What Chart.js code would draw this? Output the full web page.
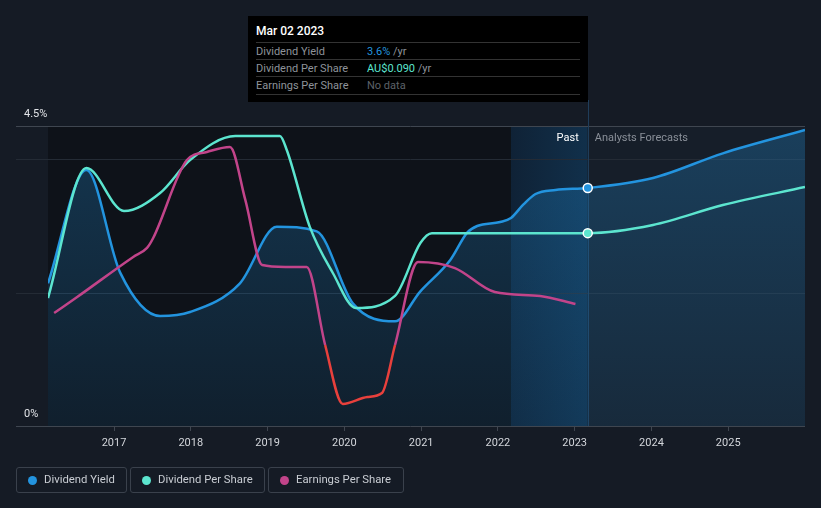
<!DOCTYPE html>
<html>
<head>
<meta charset="utf-8">
<script src="https://cdn.jsdelivr.net/npm/chart.js@4.4.1/dist/chart.umd.min.js"></script>
<style>
  body { margin: 0; background: #151b25; font-family: Roboto, sans-serif; }
  #wrap { position: relative; width: 821px; height: 508px; overflow: hidden; }
  #tip { position: absolute; left: 248px; top: 16px; width: 340px; height: 86px; background: #000; }
  #tip .title { position: absolute; left: 8px; top: 8px; color: #fff; font-size: 12px; font-weight: 500; }
  #tip .row { position: absolute; left: 8px; width: 324px; height: 17px; line-height: 17px; border-top: 1px solid #333; font-size: 11px; color: #8e939a; }
  #tip .row.last { border-bottom: 1px solid #333; }
  #tip .row span { position: absolute; left: 111px; }
  .legend { position: absolute; top: 467px; height: 24px; border: 1px solid #3a414c; border-radius: 3px; font-size: 11.3px; color: #c9cdd3; line-height: 24px; box-sizing: content-box; }
  .legend i { position: absolute; left: 11px; top: 8px; width: 9px; height: 9px; border-radius: 50%; }
  .legend b { position: absolute; left: 27px; font-weight: 400; white-space: nowrap; }
</style>
</head>
<body>
<div id="wrap">
  <canvas id="chart" width="821" height="508"></canvas>
  <div id="tip">
    <div class="title">Mar 02 2023</div>
    <div class="row" style="top:26px">Dividend Yield<span><em style="font-style:normal;color:#2394df">3.6%</em> /yr</span></div>
    <div class="row" style="top:43px">Dividend Per Share<span><em style="font-style:normal;color:#5ce5cf">AU$0.090</em> /yr</span></div>
    <div class="row last" style="top:60px">Earnings Per Share<span style="color:#5d6269">No data</span></div>
  </div>
  <div class="legend" style="left:16px;width:109px"><i style="background:#2394df"></i><b>Dividend Yield</b></div>
  <div class="legend" style="left:130px;width:133px"><i style="background:#5ce5cf"></i><b>Dividend Per Share</b></div>
  <div class="legend" style="left:268px;width:134px"><i style="background:#c2448a"></i><b>Earnings Per Share</b></div>
</div>
<script>
// values (x in decimal years)
const yieldX = [2016.14, 2016.64, 2017.08, 2017.60, 2017.99, 2018.64, 2019.12, 2019.64, 2020.11, 2020.66, 2020.99, 2021.38, 2021.60, 2021.73, 2022.03, 2022.17, 2022.33, 2022.49, 2022.75, 2023.17, 2024.02, 2024.93, 2026.0];
const yieldY = [2.14, 3.84, 2.30, 1.65, 1.71, 2.14, 2.99, 2.92, 1.84, 1.57, 2.02, 2.49, 2.90, 3.00, 3.06, 3.12, 3.32, 3.48, 3.54, 3.57, 3.72, 4.09, 4.44];

const dpsX = [2016.14, 2016.64, 2017.13, 2017.60, 2017.99, 2018.58, 2019.16, 2019.25, 2019.55, 2019.85, 2020.15, 2020.66, 2020.99, 2021.14, 2023.17, 2024.02, 2024.93, 2026.0];
const dpsY = [0.0597, 0.1204, 0.1003, 0.1087, 0.1241, 0.1353, 0.1353, 0.1288, 0.0929, 0.0714, 0.0551, 0.0607, 0.0854, 0.090, 0.090, 0.0938, 0.1031, 0.1115];

const epsX = [2016.22, 2016.52, 2017.25, 2017.43, 2017.51, 2017.95, 2018.21, 2018.51, 2018.71, 2018.93, 2019.23, 2019.51, 2019.75, 2019.98, 2020.30, 2020.49, 2020.66, 2020.96, 2021.44, 2021.96, 2022.55, 2023.01];
const epsY = [0.0213, 0.032, 0.0587, 0.0647, 0.0713, 0.1233, 0.1287, 0.132, 0.0967, 0.0533, 0.052, 0.052, 0, -0.0393, -0.0347, -0.032, 0, 0.0553, 0.0513, 0.0353, 0.0327, 0.0273];

const yearTicks = [2017, 2018, 2019, 2020, 2021, 2022, 2023, 2024, 2025];
const yieldTicks = [0, 4.5];
const yieldGrid = [2, 4, 4.5];
const nowX = 2023.17;
const bandStart = 2022.17;

const BLUE = "#2394df", TEAL = "#5ce5cf", PINK = "#c2448a", RED = "#e8403c";

function pts(xs, ys) { return xs.map((x, i) => ({ x: x, y: ys[i] })); }

const backdrop = {
  id: "backdrop",
  beforeDatasetsDraw(chart) {
    const { ctx, chartArea: a, scales } = chart;
    const x = scales.x, y = scales.y;
    const xb = x.getPixelForValue(bandStart), xn = x.getPixelForValue(nowX);
    ctx.save();
    ctx.fillStyle = "#0e1219";
    ctx.fillRect(a.left, a.top, xb - a.left, a.bottom - a.top);
    let g = ctx.createLinearGradient(xb, 0, xn, 0);
    g.addColorStop(0, "#0f2236");
    g.addColorStop(1, "#11304b");
    ctx.fillStyle = g;
    ctx.fillRect(xb, a.top, xn - xb, a.bottom - a.top);
    ctx.fillStyle = "#161e29";
    ctx.fillRect(xn, a.top, a.right - xn, a.bottom - a.top);
    // grid lines
    yieldGrid.forEach(v => {
      const py = Math.round(y.getPixelForValue(v)) + 0.5;
      ctx.strokeStyle = v === 4.5 ? "#3f4650" : "#242b35";
      ctx.lineWidth = 1;
      ctx.beginPath(); ctx.moveTo(16, py); ctx.lineTo(a.right, py); ctx.stroke();
    });
    // vertical marker
    ctx.strokeStyle = "#1f3d5a";
    ctx.beginPath(); ctx.moveTo(Math.round(xn) + 0.5, 100); ctx.lineTo(Math.round(xn) + 0.5, a.bottom); ctx.stroke();
    ctx.restore();
  },
  afterDatasetsDraw(chart) {
    const { ctx, chartArea: a, scales } = chart;
    const y = scales.y, x = scales.x;
    ctx.save();
    // bottom axis line
    ctx.strokeStyle = "#3f4650";
    ctx.beginPath(); ctx.moveTo(16, Math.round(a.bottom) + 0.5); ctx.lineTo(a.right, Math.round(a.bottom) + 0.5); ctx.stroke();
    ctx.font = "11px Roboto";
    ctx.fillStyle = "#e2e4e8";
    ctx.textBaseline = "middle";
    yieldTicks.forEach(v => {
      ctx.fillText(v + "%", 24, y.getPixelForValue(v) - 12);
    });
    const xn = x.getPixelForValue(nowX);
    ctx.textAlign = "right";
    ctx.fillStyle = "#ffffff";
    ctx.fillText("Past", xn - 9, a.top + 12);
    ctx.textAlign = "left";
    ctx.fillStyle = "#8a9099";
    ctx.fillText("Analysts Forecasts", xn + 7, a.top + 12);
    ctx.restore();
  }
};

function yieldFill(ctx) {
  const a = ctx.chart.chartArea;
  if (!a) return "rgba(35,148,223,0.15)";
  const g = ctx.chart.ctx.createLinearGradient(0, a.top, 0, a.bottom);
  g.addColorStop(0, "rgba(35,148,223,0.28)");
  g.addColorStop(1, "rgba(35,148,223,0.10)");
  return g;
}

function nowRadius(c) { return c.raw && c.raw.x === nowX ? 4.5 : 0; }

new Chart(document.getElementById("chart"), {
  type: "line",
  data: {
    datasets: [
      {
        label: "Earnings Per Share",
        data: pts(epsX, epsY),
        yAxisID: "y3",
        borderColor: PINK,
        borderWidth: 2.5,
        pointRadius: 0,
        cubicInterpolationMode: "monotone",
        segment: {
          borderColor: s => (s.p0.parsed.y < 0 || s.p1.parsed.y < 0) ? RED : PINK
        }
      },
      {
        label: "Dividend Per Share",
        data: pts(dpsX, dpsY),
        yAxisID: "y2",
        borderColor: TEAL,
        borderWidth: 2.5,
        pointRadius: nowRadius,
        pointBackgroundColor: TEAL,
        pointBorderColor: "#ffffff",
        pointBorderWidth: 1.5,
        cubicInterpolationMode: "monotone"
      },
      {
        label: "Dividend Yield",
        data: pts(yieldX, yieldY),
        yAxisID: "y",
        borderColor: BLUE,
        borderWidth: 2.5,
        fill: "origin",
        backgroundColor: yieldFill,
        pointRadius: nowRadius,
        pointBackgroundColor: BLUE,
        pointBorderColor: "#ffffff",
        pointBorderWidth: 1.5,
        cubicInterpolationMode: "monotone"
      }
    ]
  },
  options: {
    responsive: false,
    animation: false,
    layout: { padding: { left: 48, right: 16, top: 126, bottom: 0 } },
    plugins: { legend: { display: false }, tooltip: { enabled: false } },
    scales: {
      x: {
        type: "linear",
        min: 2016.14,
        max: 2026.0,
        afterBuildTicks: s => { s.ticks = yearTicks.map(v => ({ value: v })); },
        afterFit: s => { s.height = 82; },
        grid: { drawOnChartArea: false, tickLength: 5, color: "#3f4650" },
        border: { display: false },
        ticks: { color: "#d3d6db", font: { family: "Roboto", size: 11 }, padding: 6, maxRotation: 0, callback: v => String(v) }
      },
      y: { display: false, min: 0, max: 4.5 },
      y2: { display: false, min: 0, max: 0.14 },
      y3: { display: false, min: -0.054, max: 0.146 }
    }
  },
  plugins: [backdrop]
});
</script>
</body>
</html>
